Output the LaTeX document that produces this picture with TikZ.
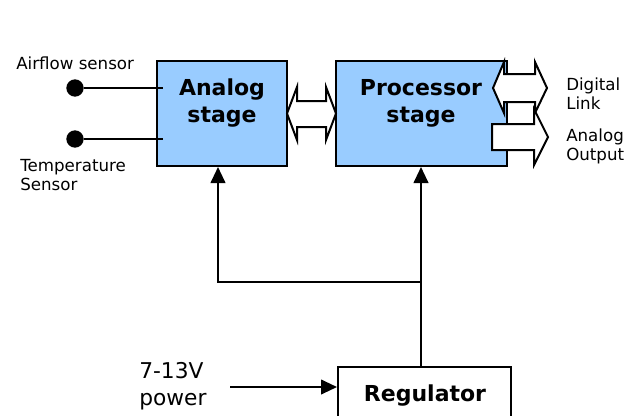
\documentclass[tikz,border=0pt]{standalone}
\usepackage{fontspec}
\setmainfont{DejaVu Sans}
\usetikzlibrary{arrows.meta}

\definecolor{stageblue}{RGB}{153,204,255}

\tikzset{
  stage/.style={draw, fill=stageblue, line width=1.5pt, inner sep=0pt},
  stagetext/.style={font=\bfseries\fontsize{16.5}{20.25}\selectfont, align=center, inner sep=0pt, anchor=base},
  lbl/.style={font=\fontsize{12.5}{14.25}\selectfont, align=left, inner sep=0pt, anchor=base west},
  wire/.style={line width=1.5pt},
  feed/.style={wire, -{Triangle[length=12pt, width=11pt]}},
  fatarrow/.style={draw, fill=white, line width=1.5pt, line join=miter},
  pin/.style={circle, fill=black, inner sep=0pt, minimum size=13pt}
}

\begin{document}
\begin{tikzpicture}[x=0.75pt, y=-0.75pt]
  \useasboundingbox (0,0) rectangle (639,415);

  % Stage boxes
  \node[stage, minimum width=97.5pt, minimum height=78.75pt] (ana) at (222,113.5) {};
  \node[stage, minimum width=128.25pt, minimum height=78.75pt] (proc) at (421.5,113.5) {};
  \node[draw, fill=white, line width=1.5pt, minimum width=129.75pt, minimum height=42pt] (reg) at (424.5,395) {};

  % Sensor inputs
  \node[pin] (airpin) at (75,88) {};
  \node[pin] (tmppin) at (75,139) {};
  \coordinate (airin) at (163,88);
  \coordinate (tmpin) at (163,139);
  \draw[wire] (airpin) -- (airin);
  \draw[wire] (tmppin) -- (tmpin);

  % Supply lines
  \coordinate (tee) at (421,282);
  \coordinate (bend) at (218,282);
  \coordinate (pwrin) at (230,387);
  \draw[wire] (reg.north -| tee) -- (tee);
  \draw[feed] (tee) -- (proc.south -| tee);
  \draw[feed] (tee) -- (bend) -- (ana.south -| bend);
  \draw[feed] (pwrin) -- (reg.west |- pwrin);

  % Wide arrows
  \draw[fatarrow] (287,113.5) -- (297,87) -- (297,101) -- (326,101) -- (326,87) -- (336,113.5)
    -- (326,140) -- (326,127) -- (297,127) -- (297,140) -- cycle;
  \draw[fatarrow] (493,88) -- (504,62) -- (504,74) -- (535,74) -- (535,62) -- (547,88)
    -- (535,113) -- (535,102) -- (504,102) -- (504,113) -- cycle;
  \draw[fatarrow] (492,124) -- (534,124) -- (534,109) -- (548,137) -- (534,165)
    -- (534,150) -- (492,150) -- cycle;

  % Texts (base = last line)
  \node[stagetext] (anatxt) at (222,122) {Analog\\stage};
  \node[stagetext] (proctxt) at (421,122) {Processor\\stage};
  \node[stagetext] (regtxt) at (425,401) {Regulator};
  \node[lbl] (airlbl) at (16,69) {Airflow sensor};
  \node[lbl] (tmplbl) at (20,190) {Temperature\\Sensor};
  \node[lbl] (diglbl) at (566,109) {Digital\\Link};
  \node[lbl] (outlbl) at (566,160) {Analog\\Output};
  \node[lbl, font=\fontsize{16.3}{20}\selectfont] (pwrlbl) at (139,405) {7-13V\\power};
\end{tikzpicture}
\end{document}
